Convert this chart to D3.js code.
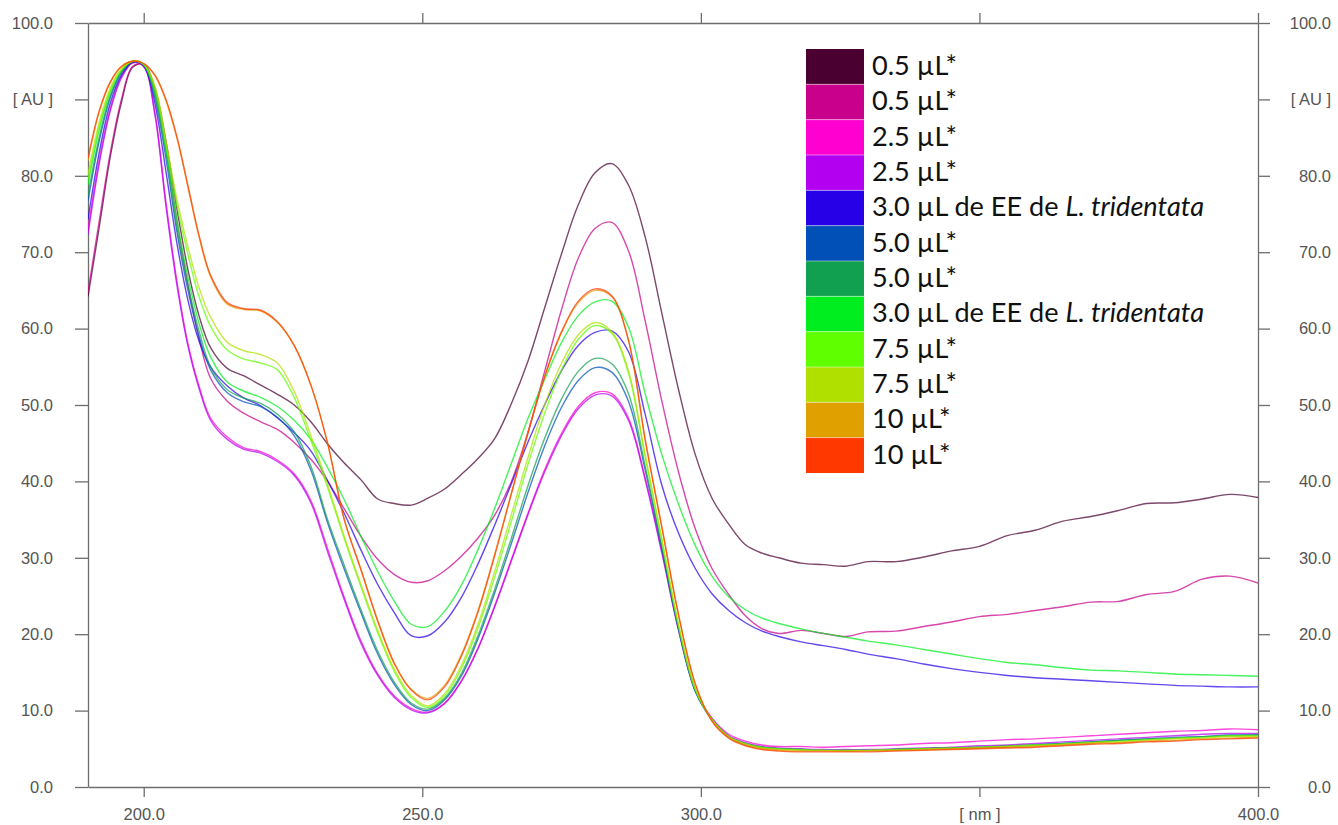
<!DOCTYPE html>
<html><head><meta charset="utf-8">
<script src="https://cdn.jsdelivr.net/npm/d3@7"></script>
<style>
html,body{margin:0;padding:0;background:#fff;}
svg{display:block;}
</style></head>
<body>
<svg id="chart" width="1338" height="825"></svg>
<script>
// ---------- data ----------
const wavelengths = [190,192,194,196,198,200,202,204,206,208,210,212,
  215,218,221,224,227,230,233,236,239,242,245,248,251,
  254,257,260,263,266,269,272,275,278,281,284,287,290,
  293,296,299,302,305,308,311,314,
  318,322,326,330,335,340,345,350,355,360,365,370,375,380,385,390,395,400];

const s05a = [64.2,73.2,82.5,89.6,94.2,94.6,91.5,84.5,75.5,67.5,61.5,57.5,
  54.8,53.8,52.6,51.4,50.0,47.8,44.9,42.4,40.2,37.7,37.1,36.9,37.8,
  39.0,40.9,43.0,45.6,50.2,55.8,62.8,69.8,76.2,80.4,81.6,78.8,72.0,
  62.0,52.0,43.5,37.8,34.4,31.7,30.6,30.0,
  29.3,29.1,28.9,29.5,29.5,30.1,30.9,31.5,32.9,33.6,34.8,35.4,36.2,37.1,37.2,37.7,38.3,37.9];
const s05b = [64.8,74.0,83.0,90.0,94.3,94.6,91.0,83.5,74.0,65.5,58.5,53.5,
  50.5,48.9,47.8,46.8,45.1,42.9,40.0,36.4,32.8,29.8,27.8,26.8,27.0,
  28.3,30.2,32.6,35.6,40.0,46.5,54.5,62.5,69.2,73.1,73.9,70.2,61.0,
  50.5,41.2,33.8,28.6,25.2,22.4,20.7,20.1,
  20.5,20.1,19.7,20.3,20.4,21.0,21.6,22.3,22.6,23.1,23.6,24.2,24.3,25.2,25.6,27.2,27.6,26.7];
const s25a = [73.0,82.0,88.8,93.0,94.8,94.3,88.3,76.5,66.0,57.8,52.3,48.3,
  45.8,44.4,43.9,42.8,41.0,37.5,31.2,24.8,19.1,14.8,11.9,10.3,9.8,
  11.0,13.9,18.2,23.7,29.8,35.9,41.6,46.3,49.8,51.6,51.5,48.3,40.5,
  30.9,20.8,12.8,9.0,6.9,6.0,5.5,5.3,
  5.3,5.2,5.3,5.4,5.5,5.7,5.8,6.0,6.2,6.3,6.5,6.7,6.9,7.1,7.3,7.4,7.6,7.5];
const s25b = [72.3,81.5,88.5,92.8,94.8,94.3,88.0,76.0,65.5,57.5,52.0,48.0,
  45.5,44.2,43.7,42.6,40.8,37.2,30.8,24.5,18.8,14.6,11.7,10.1,9.7,
  10.9,13.8,18.1,23.6,29.6,35.7,41.3,46.0,49.5,51.3,51.2,48.0,40.2,
  30.6,20.5,12.6,8.9,6.7,5.8,5.3,5.1,
  5.0,4.9,4.9,4.9,5.0,5.1,5.2,5.4,5.5,5.7,5.9,6.1,6.3,6.5,6.7,6.9,7.0,7.0];
const s30a = [74.3,83.0,89.5,93.2,94.9,94.4,89.5,80.5,71.0,63.5,58.2,55.0,
  52.5,50.9,49.9,48.3,46.4,44.0,40.1,35.8,31.0,26.5,22.8,19.8,19.8,
  21.6,24.8,29.2,34.3,39.7,45.2,50.1,54.5,57.8,59.5,59.7,57.0,48.8,
  39.5,33.2,28.6,25.3,23.1,21.5,20.4,19.7,
  19.0,18.5,18.0,17.4,16.8,16.1,15.5,15.0,14.6,14.3,14.1,13.9,13.7,13.5,13.3,13.2,13.1,13.1];
const s50a = [76.7,84.5,90.2,93.5,94.9,94.5,90.2,82.2,72.5,64.8,58.8,54.6,
  51.6,50.4,49.8,48.4,46.0,41.5,34.6,28.5,22.8,17.4,13.4,10.8,10.0,
  11.4,14.5,19.4,25.4,31.9,38.6,44.7,49.7,53.2,54.9,54.3,50.5,41.5,
  31.2,20.6,12.5,8.8,6.6,5.7,5.2,5.0,
  4.9,4.8,4.8,4.8,4.9,5.0,5.1,5.2,5.3,5.5,5.7,5.9,6.1,6.3,6.5,6.6,6.8,6.8];
const s50b = [77.5,85.0,90.5,93.6,95.0,94.5,90.5,83.0,73.0,65.5,59.5,55.0,
  52.0,50.9,50.2,48.8,46.5,42.0,35.0,29.0,23.2,17.8,13.7,11.0,10.2,
  11.6,14.8,19.8,25.9,32.6,39.5,45.7,50.8,54.4,56.1,55.4,51.5,42.0,
  31.5,20.8,12.6,8.8,6.6,5.6,5.2,5.0,
  4.9,4.8,4.8,4.8,4.9,5.0,5.1,5.2,5.4,5.5,5.7,5.9,6.1,6.3,6.4,6.6,6.7,6.8];
const s30b = [78.8,86.0,91.0,93.8,95.0,94.6,91.0,83.5,74.0,66.5,60.5,56.3,
  53.0,51.8,51.0,49.8,48.0,45.5,41.8,37.6,32.8,28.2,24.3,21.3,21.0,
  23.0,26.4,31.1,36.5,42.4,48.3,53.4,58.2,61.7,63.5,63.6,60.2,51.5,
  43.5,37.0,31.6,27.6,24.9,23.2,22.1,21.4,
  20.7,20.1,19.6,19.1,18.6,18.0,17.4,16.8,16.3,16.0,15.6,15.3,15.2,15.0,14.8,14.7,14.6,14.5];
const s75a = [79.5,86.5,91.2,93.9,95.0,94.6,91.5,84.0,76.0,69.5,64.0,60.3,
  57.2,56.0,55.5,54.6,51.0,45.4,39.2,32.5,26.2,20.2,15.1,11.7,10.4,
  11.9,15.5,20.8,27.5,34.8,42.3,49.0,54.6,58.6,60.4,59.4,54.2,43.2,
  32.2,21.1,12.8,8.8,6.6,5.7,5.2,5.0,
  4.9,4.8,4.8,4.8,4.9,5.0,5.1,5.2,5.3,5.5,5.6,5.8,6.0,6.2,6.4,6.5,6.7,6.7];
const s75b = [80.2,87.0,91.5,94.0,95.0,94.6,91.8,84.5,76.8,70.5,65.2,61.5,
  58.2,57.1,56.6,55.5,51.8,46.0,39.6,32.8,26.5,20.5,15.4,12.0,10.6,
  12.2,15.9,21.3,28.2,35.7,43.2,50.1,55.5,59.2,60.8,59.6,54.5,43.5,
  32.5,21.3,12.9,8.8,6.6,5.6,5.1,4.9,
  4.8,4.8,4.7,4.8,4.8,4.9,5.0,5.1,5.3,5.4,5.6,5.8,5.9,6.1,6.3,6.4,6.6,6.6];
const s10a = [82.0,88.3,92.2,94.3,95.0,94.7,93.1,89.8,84.8,78.3,71.8,66.8,
  63.2,62.5,62.3,60.8,57.8,52.6,45.0,35.0,28.5,21.8,16.2,12.8,11.6,
  13.3,17.3,23.1,30.5,38.5,46.5,53.8,59.5,63.4,65.0,64.2,58.5,45.5,
  34.0,22.5,13.5,8.7,6.5,5.5,5.0,4.8,
  4.7,4.7,4.7,4.7,4.8,4.9,5.0,5.1,5.2,5.3,5.5,5.7,5.8,6.0,6.1,6.3,6.4,6.5];
const s10b = [82.3,88.5,92.3,94.3,95.0,94.7,93.2,90.0,85.0,78.5,72.0,67.0,
  63.4,62.6,62.4,60.9,57.8,52.6,45.0,35.0,28.4,21.7,16.1,12.7,11.4,
  13.1,17.1,22.9,30.3,38.4,46.4,53.8,59.6,63.6,65.2,64.3,58.5,45.5,
  34.0,22.5,13.5,8.6,6.4,5.4,4.9,4.7,
  4.6,4.6,4.6,4.6,4.7,4.8,4.9,5.0,5.1,5.2,5.4,5.6,5.7,5.9,6.0,6.2,6.3,6.4];

const seriesValues = [s05a, s05b, s25a, s25b, s30a, s50a, s50b, s30b, s75a, s75b, s10a, s10b];
const seriesLabels = ["0.5 µL*","0.5 µL*","2.5 µL*","2.5 µL*","3.0 µL de EE de |L. tridentata",
  "5.0 µL*","5.0 µL*","3.0 µL de EE de |L. tridentata","7.5 µL*","7.5 µL*","10 µL*","10 µL*"];
const seriesColors = ["#4b0032","#c8008c","#ff00d0","#b400f0","#2800e8","#0050b8",
  "#10a050","#00ee20","#60ff00","#b0e000","#e0a000","#ff3800"];

const yTicks = [0,10,20,30,40,50,60,70,80,90,100];
const yTickLabels = ["0.0","10.0","20.0","30.0","40.0","50.0","60.0","70.0","80.0","[ AU ]","100.0"];
const xTicks = [200,250,300,350,400];
const xTickLabels = ["200.0","250.0","300.0","[ nm ]","400.0"];

// ---------- drawing ----------
const svg = d3.select("#chart");
const L = 88, R = 1258, T = 23, B = 787;
const x = d3.scaleLinear().domain([190, 400]).range([L, R]);
const y = d3.scaleLinear().domain([0, 100]).range([B, T]);

const axisColor = "#6e6e6e";
const labelFont = "'Liberation Sans', Arial, sans-serif";

function styleAxis(g) {
  g.selectAll("path.domain").attr("stroke", axisColor).attr("stroke-width", 1.3);
  g.selectAll(".tick line").attr("stroke", axisColor).attr("stroke-width", 1.3);
  g.selectAll(".tick text").attr("fill", "#555").attr("font-family", labelFont).attr("font-size", 16.5);
}

const yFmt = d => yTickLabels[yTicks.indexOf(d)];
const xFmt = d => xTickLabels[xTicks.indexOf(d)];

svg.append("g").attr("transform", `translate(${L},0)`)
  .call(d3.axisLeft(y).tickValues(yTicks).tickFormat(yFmt).tickSize(13).tickSizeOuter(0).tickPadding(22))
  .call(styleAxis);

const gr = svg.append("g").attr("transform", `translate(${R},0)`)
  .call(d3.axisRight(y).tickValues(yTicks).tickFormat(yFmt).tickSize(12).tickSizeOuter(0))
  .call(styleAxis);
gr.selectAll(".tick text").attr("text-anchor", "end").attr("x", 73);

svg.append("g").attr("transform", `translate(0,${B})`)
  .call(d3.axisBottom(x).tickValues(xTicks).tickFormat(xFmt).tickSize(10).tickSizeOuter(0).tickPadding(11))
  .call(styleAxis);

svg.append("g").attr("transform", `translate(0,${T})`)
  .call(d3.axisTop(x).tickValues(xTicks).tickFormat("").tickSize(10).tickSizeOuter(0))
  .call(styleAxis);

svg.append("defs").append("clipPath").attr("id", "plotclip")
  .append("rect").attr("x", L).attr("y", T).attr("width", R - L).attr("height", B - T);

const line = d3.line()
  .x((d, i) => x(wavelengths[i]))
  .y(d => y(d))
  .curve(d3.curveCatmullRom.alpha(0.5));

const lg = svg.append("g").attr("clip-path", "url(#plotclip)");
seriesValues.forEach((vals, k) => {
  lg.append("path")
    .attr("d", line(vals))
    .attr("fill", "none")
    .attr("stroke", seriesColors[k])
    .attr("stroke-opacity", 0.72)
    .attr("stroke-width", 1.4)
    .attr("stroke-linejoin", "round");
});

// ---------- legend ----------
const legX = 806, legY = 49, swW = 58, rowH = (473 - 49) / 12;
const leg = svg.append("g");
seriesLabels.forEach((lab, k) => {
  leg.append("rect").attr("x", legX).attr("y", legY + k * rowH)
    .attr("width", swW).attr("height", rowH).attr("fill", seriesColors[k]);
});
for (let k = 1; k < 12; k++) {
  leg.append("line").attr("x1", legX).attr("x2", legX + swW)
    .attr("y1", legY + k * rowH).attr("y2", legY + k * rowH)
    .attr("stroke", "#fff").attr("stroke-opacity", 0.45).attr("stroke-width", 1);
}
const texts = [];
seriesLabels.forEach((lab, k) => {
  const parts = lab.split("|");
  const t = leg.append("text").attr("x", 872).attr("y", legY + k * rowH + 26)
    .attr("font-family", "Lato, 'Open Sans', sans-serif").attr("font-size", 24).attr("fill", "#111");
  t.append("tspan").text(parts[0]);
  if (parts[1]) t.append("tspan").attr("font-style", "italic").text(parts[1]);
  texts.push(t);
});
// fit legend font to the reference width of the longest label
const longW = texts[4].node().getComputedTextLength();
const fs = 24 * 332 / longW;
texts.forEach(t => t.attr("font-size", fs.toFixed(2)));
</script>
</body></html>
